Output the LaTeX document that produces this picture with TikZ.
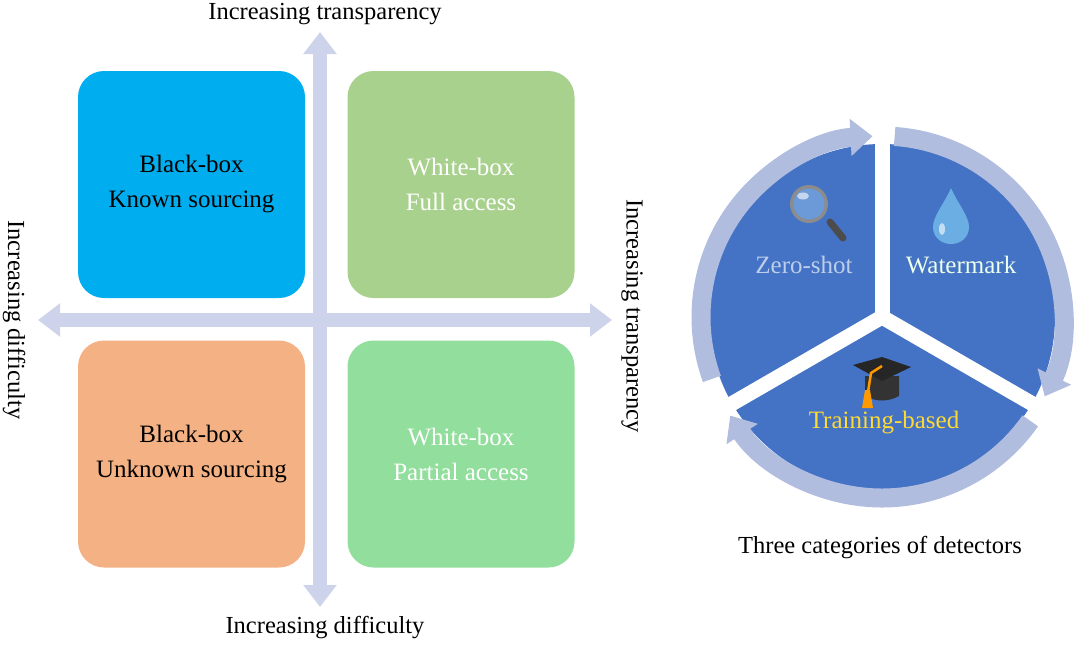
\documentclass[tikz,border=0pt]{standalone}
\usepackage{fontspec}
\setmainfont{Liberation Serif}
\usetikzlibrary{arrows.meta}
\definecolor{bbox}{HTML}{00AEEF}
\definecolor{gbox}{HTML}{A9D18E}
\definecolor{obox}{HTML}{F4B183}
\definecolor{lgbox}{HTML}{92DE9D}
\definecolor{axis}{HTML}{CDD3EA}
\definecolor{pie}{HTML}{4472C4}
\definecolor{ring}{HTML}{B0BDDF}
\tikzset{
 quad/.style={rounded corners=26pt,minimum width=227pt,minimum height=227pt,inner sep=0pt,align=center,font=\fontsize{25}{35}\selectfont},
 ax/.style={axis,line width=14pt,{Triangle[width=32pt,length=22pt]}-{Triangle[width=32pt,length=22pt]}},
 lab/.style={font=\fontsize{24.5}{28}\selectfont,inner sep=0pt},
 rg/.style={ring,line width=19pt,-{Triangle[width=36pt,length=22pt]}},
 div/.style={white,line width=15pt}
}
\begin{document}
\begin{tikzpicture}[x=1pt,y=1pt]
\useasboundingbox (0,0) rectangle (1081,-646);
% quadrants
\node[quad,fill=bbox] (q1) at (191.5,-184.5) {Black-box\\Known sourcing};
\node[quad,fill=gbox,text=white] (q2) at (461,-184.5) {White-box\\Full access};
\node[quad,fill=obox] (q3) at (191.5,-454) {Black-box\\Unknown sourcing};
\node[quad,fill=lgbox,text=white] (q4) at (461,-454) {White-box\\Partial access};
\coordinate (vt) at (320,-32); \coordinate (vb) at (320,-607);
\coordinate (hl) at (38,-320); \coordinate (hr) at (612,-320);
\draw[ax] (vb) -- (vt);
\draw[ax] (hl) -- (hr);
\node[lab] (tt) at (325,-14) {Increasing transparency};
\node[lab] (tb) at (325,-628) {Increasing difficulty};
\node[lab,rotate=-90] (tl) at (14,-320) {Increasing difficulty};
\node[lab,rotate=-90] (tr) at (632,-316) {Increasing transparency};
% pie
\coordinate (c) at (882,-317);
\fill[pie] (c) circle (173);
\draw[div] (c) -- ++(90:178);
\draw[div] (c) -- ++(210:178);
\draw[div] (c) -- ++(-30:178);
\draw[rg] ([shift={(200:181)}]c) arc (200:93:181);
\draw[rg] ([shift={(86:181)}]c) arc (86:-26:181);
\draw[rg] ([shift={(-35:181)}]c) arc (-35:-147:181);
\node[lab,font=\fontsize{25}{28}\selectfont,text=pie!35!white] (z) at (804,-265) {Zero-shot};
\node[lab,font=\fontsize{25}{28}\selectfont,text=green!8!white] (w) at (961,-265) {Watermark};
\node[lab,font=\fontsize{25}{28}\selectfont,text=yellow!70!orange!80!white] (t) at (884,-423) {Training-based};
% magnifier
\draw[black!70,line width=7pt,line cap=round] (830,-222) -- (843,-238);
\fill[black!45] (809,-204) circle (19);
\fill[cyan!50!blue!60!white] (809,-204) circle (15.5);
\fill[white,opacity=.6] (803,-196) ellipse (6 and 3.5);
% droplet
\fill[cyan!70!blue!60!white] (951,-188) .. controls (944,-204) and (933,-216) .. (933,-227) .. controls (933,-238) and (942,-244) .. (951,-244) .. controls (960,-244) and (969,-238) .. (969,-227) .. controls (969,-216) and (958,-204) .. (951,-188) -- cycle;
\fill[white,opacity=.6] (942,-229) ellipse (3 and 6);
% mortarboard
\fill[black!80] (865,-376) -- (899,-376) -- (899,-396) .. controls (888,-402) and (876,-402) .. (865,-396) -- cycle;
\fill[black!85] (853,-365) -- (882,-357) -- (911,-367) -- (882,-381) -- cycle;
\draw[orange!80!yellow,line width=2.5pt] (882,-366) -- (871,-373) -- (868,-392);
\fill[orange!80!yellow] (865,-390) -- (870,-390) -- (873,-408) -- (862,-408) -- cycle;
\node[lab] (cap) at (880,-548) {Three categories of detectors};
\end{tikzpicture}
\end{document}
